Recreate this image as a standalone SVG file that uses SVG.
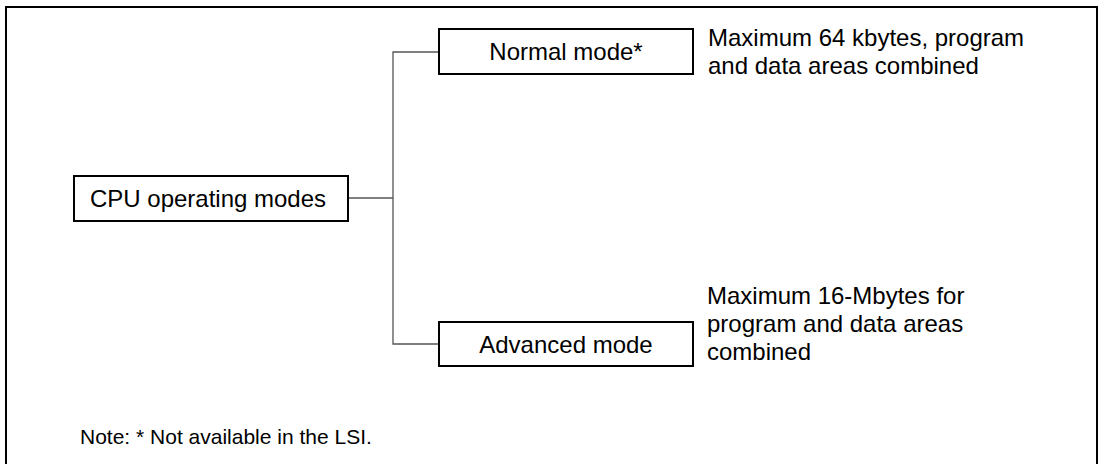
<svg xmlns="http://www.w3.org/2000/svg" width="1100" height="464" viewBox="0 0 1100 464">
<style>
text{font-family:"Liberation Sans",Arial,sans-serif;font-size:24px;fill:#000}
text.note{font-size:21px}
.box{fill:#fff;stroke:#000;stroke-width:2}
.conn{fill:none;stroke:#555;stroke-width:1.3}
.frame{fill:none;stroke:#000;stroke-width:2}
</style>
<path class="frame" d="M6 470 V7 H1097 V470"/>
<g id="connectors">
<path class="conn" d="M348 198 H393"/>
<path class="conn" d="M439 52 H393 V344 H439"/>
</g>
<g id="cpu">
<rect class="box" x="74" y="176" width="274" height="45"/>
<text x="208" y="207" text-anchor="middle">CPU operating modes</text>
</g>
<g id="normal">
<rect class="box" x="439" y="29" width="254" height="45"/>
<text x="566" y="60" text-anchor="middle">Normal mode*</text>
</g>
<g id="normal-note">
<text x="708" y="46">Maximum 64 kbytes, program</text>
<text x="708" y="74">and data areas combined</text>
</g>
<g id="advanced">
<rect class="box" x="439" y="322" width="254" height="44"/>
<text x="566" y="353" text-anchor="middle">Advanced mode</text>
</g>
<g id="advanced-note">
<text x="707" y="304">Maximum 16-Mbytes for</text>
<text x="707" y="332">program and data areas</text>
<text x="707" y="360">combined</text>
</g>
<g id="footnote">
<text class="note" x="80" y="444">Note: * Not available in the LSI.</text>
</g>
</svg>
